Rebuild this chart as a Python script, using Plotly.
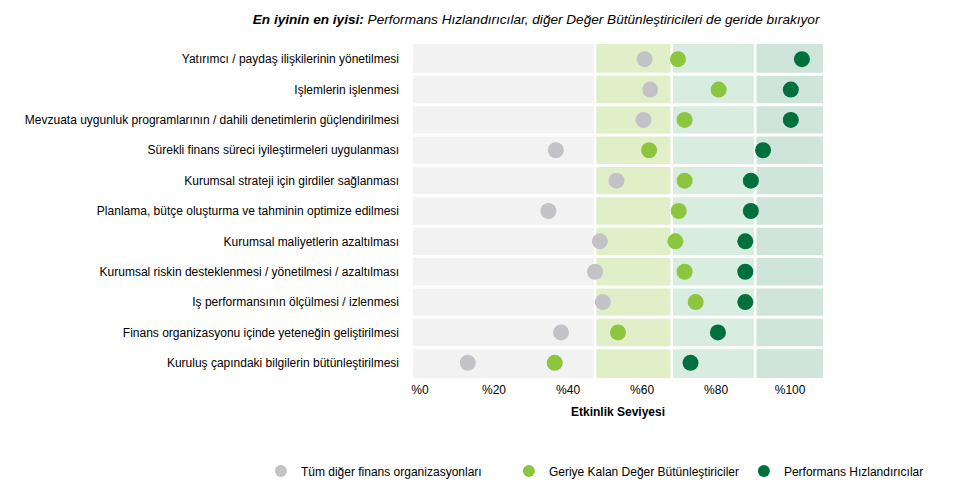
import plotly.graph_objects as go

categories = [
    "Yatırımcı / paydaş ilişkilerinin yönetilmesi",
    "Işlemlerin işlenmesi",
    "Mevzuata uygunluk programlarının / dahili denetimlerin güçlendirilmesi",
    "Sürekli finans süreci iyileştirmeleri uygulanması",
    "Kurumsal strateji için girdiler sağlanması",
    "Planlama, bütçe oluşturma ve tahminin optimize edilmesi",
    "Kurumsal maliyetlerin azaltılması",
    "Kurumsal riskin desteklenmesi / yönetilmesi / azaltılması",
    "Iş performansının ölçülmesi / izlenmesi",
    "Finans organizasyonu içinde yeteneğin geliştirilmesi",
    "Kuruluş çapındaki bilgilerin bütünleştirilmesi",
]
others = [60.7, 62.2, 60.4, 36.7, 53.1, 34.7, 48.6, 47.3, 49.4, 38.1, 12.9]
integrators = [69.7, 80.7, 71.5, 61.9, 71.5, 69.9, 69.0, 71.5, 74.5, 53.5, 36.4]
accelerators = [103.2, 100.2, 100.2, 92.7, 89.4, 89.4, 87.9, 87.9, 87.9, 80.5, 73.1]

series_names = ["Tüm diğer finans organizasyonları",
                "Geriye Kalan Değer Bütünleştiriciler",
                "Performans Hızlandırıcılar"]
series_colors = ["#c3c3c7", "#8cc63f", "#00703c"]
legend_widths = [203, 190, None]

tick_vals = [0, 20, 40, 60, 80, 100]
tick_text = ["%0", "%20", "%40", "%60", "%80", "%100"]

band_edges = [-1.9, 47.3, 68.0, 90.6, 108.9]
band_colors = ["#f2f2f2", "#e1efc9", "#d8ede0", "#cfe4da"]

x_range = [-1.9, 108.9]
font = "Liberation Sans, Arial, sans-serif"

fig = go.Figure()
ypos = list(range(len(categories)))
for name, vals, col, lw in zip(series_names, [others, integrators, accelerators],
                               series_colors, legend_widths):
    tr = go.Scatter(
        x=vals, y=ypos, mode="markers", name=name,
        marker=dict(size=16, color=col, line=dict(width=0)),
        hoverinfo="x+y",
    )
    if lw is not None:
        tr.legendwidth = lw
    fig.add_trace(tr)

shapes = []
for i in range(len(band_colors)):
    shapes.append(dict(type="rect", xref="x", yref="paper",
                       x0=band_edges[i], x1=band_edges[i + 1], y0=0, y1=1,
                       fillcolor=band_colors[i], line=dict(width=0), layer="below"))
for i in range(1, len(band_edges) - 1):
    shapes.append(dict(type="line", xref="x", yref="paper",
                       x0=band_edges[i], x1=band_edges[i], y0=0, y1=1,
                       line=dict(color="white", width=2.5), layer="below"))
for i in range(len(categories) - 1):
    shapes.append(dict(type="line", xref="paper", yref="y",
                       x0=0, x1=1, y0=i + 0.5, y1=i + 0.5,
                       line=dict(color="white", width=3), layer="below"))

fig.update_layout(
    width=955, height=503,
    margin=dict(l=405, r=140, t=36, b=133),
    paper_bgcolor="white", plot_bgcolor="white",
    font=dict(family=font, size=12, color="#000000"),
    shapes=shapes,
    showlegend=True,
    legend=dict(orientation="h", x=-0.371, y=-0.235, xanchor="left", yanchor="top",
                font=dict(size=12, family=font), itemsizing="constant"),
    title=dict(
        text="<b><i>En iyinin en iyisi:</i></b> <i>Performans Hızlandırıcılar, diğer Değer Bütünleştiricileri de geride bırakıyor</i>",
        x=0.553, xanchor="center", y=0.978, yanchor="middle",
        font=dict(size=13.6, family=font, color="#000000"),
    ),
    xaxis=dict(range=x_range, tickvals=tick_vals, ticktext=tick_text,
               showgrid=False, zeroline=False, showline=False, ticks="",
               tickfont=dict(size=12), ticklabelstandoff=3,
               title=dict(text="<b>Etkinlik Seviyesi</b>", font=dict(size=12), standoff=11)),
    yaxis=dict(range=[len(categories) - 0.5, -0.5], tickvals=ypos, ticktext=categories,
               showgrid=False, zeroline=False, showline=False, ticks="",
               ticklabelstandoff=13, tickfont=dict(size=12)),
)

fig.write_html("out.html")
